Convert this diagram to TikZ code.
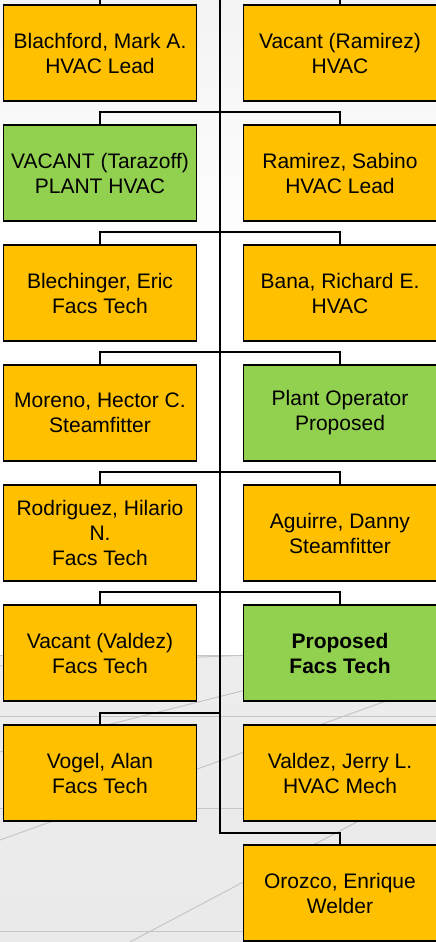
\documentclass[tikz,border=0pt]{standalone}
\usepackage{fontspec}
\setmainfont{Liberation Sans}
\definecolor{gold}{HTML}{FFC000}
\definecolor{leaf}{HTML}{92D050}
\definecolor{bgtop}{HTML}{F3F3F3}
\definecolor{floorc}{HTML}{EDEDED}
\definecolor{floorlow}{HTML}{EAEAEA}
\definecolor{gridc}{HTML}{C6C6C6}
\tikzset{
  box/.style={draw=black, line width=1.7pt, minimum width=193pt, minimum height=96pt,
    inner sep=0pt, align=center, font=\fontsize{21}{25}\selectfont},
  goldbox/.style={box, fill=gold},
  greenbox/.style={box, fill=leaf},
  link/.style={draw=black, line width=1.6pt},
  gridline/.style={draw=gridc, line width=1pt}
}
\begin{document}
\begin{tikzpicture}[x=1pt,y=-1pt]
\useasboundingbox (0,0) rectangle (436,942);
\clip (0,0) rectangle (436,942);
% background
\fill[white] (0,0) rectangle (436,942);
\shade[top color=bgtop, bottom color=white] (0,0) rectangle (436,250);
\shade[top color=floorc, bottom color=floorlow] (0,655) rectangle (436,942);
\draw[gridline] (0,655) -- (436,655);
\draw[gridline] (0,716) -- (436,716);
\draw[gridline] (0,808) -- (436,808);
\draw[gridline] (0,931) -- (436,931);
\draw[gridline] (0,666) -- (200,657) -- (250,655);
\draw[gridline] (0,752) -- (436,642);
\draw[gridline] (0,840) -- (436,683);
\draw[gridline] (130,942) -- (436,780);
% boxes
\node[goldbox]  (L0) at (100,53)  {Blachford, Mark A.\\HVAC Lead};
\node[goldbox]  (R0) at (340,53)  {Vacant (Ramirez)\\HVAC};
\node[greenbox] (L1) at (100,173) {VACANT (Tarazoff)\\PLANT HVAC};
\node[goldbox]  (R1) at (340,173) {Ramirez, Sabino\\HVAC Lead};
\node[goldbox]  (L2) at (100,293) {Blechinger, Eric\\Facs Tech};
\node[goldbox]  (R2) at (340,293) {Bana, Richard E.\\HVAC};
\node[goldbox]  (L3) at (100,413) {Moreno, Hector C.\\Steamfitter};
\node[greenbox] (R3) at (340,413) {Plant Operator\\Proposed};
\node[goldbox]  (L4) at (100,533) {Rodriguez, Hilario\\N.\\Facs Tech};
\node[goldbox]  (R4) at (340,533) {Aguirre, Danny\\Steamfitter};
\node[goldbox]  (L5) at (100,653) {Vacant (Valdez)\\Facs Tech};
\node[greenbox, font=\fontsize{21}{25}\selectfont\bfseries] (R5) at (340,653) {Proposed\\Facs Tech};
\node[goldbox]  (L6) at (100,773) {Vogel, Alan\\Facs Tech};
\node[goldbox]  (R6) at (340,773) {Valdez, Jerry L.\\HVAC Mech};
\node[goldbox]  (R7) at (340,893) {Orozco, Enrique\\Welder};
% connectors
\coordinate (ttop) at (220,-20);
\coordinate (tbot) at (220,833);
\coordinate (j6) at (220,713);
\draw[link] (ttop) -- (tbot) -| (R7.north);
\draw[link] (L0.north) -- ++(0,-12) -| (R0.north);
\draw[link] (L1.north) -- ++(0,-12) -| (R1.north);
\draw[link] (L2.north) -- ++(0,-12) -| (R2.north);
\draw[link] (L3.north) -- ++(0,-12) -| (R3.north);
\draw[link] (L4.north) -- ++(0,-12) -| (R4.north);
\draw[link] (L5.north) -- ++(0,-12) -| (R5.north);
\draw[link] (L6.north) |- (j6);
\end{tikzpicture}
\end{document}
